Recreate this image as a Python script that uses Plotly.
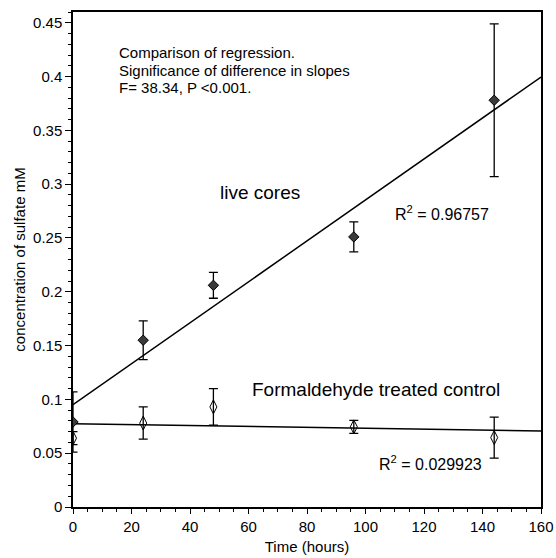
import numpy as np
import plotly.graph_objects as go

# Data
time_h = [0, 24, 48, 96, 144]
live_sulfate = [0.079, 0.155, 0.206, 0.251, 0.378]
live_err = [0.028, 0.018, 0.012, 0.014, 0.071]
control_sulfate = [0.064, 0.078, 0.093, 0.0745, 0.0645]
control_err = [0.006, 0.015, 0.017, 0.006, 0.019]
x_ticks = [0, 20, 40, 60, 80, 100, 120, 140, 160]
y_ticks = [0, 0.05, 0.1, 0.15, 0.2, 0.25, 0.3, 0.35, 0.4, 0.45]
y_tick_labels = ["0", "0.05", "0.1", "0.15", "0.2", "0.25", "0.3", "0.35", "0.4", "0.45"]
r2_live = "0.96757"
r2_control = "0.029923"

FONT = "Liberation Sans, Arial, sans-serif"

fit_x = np.array([0, 160])
live_fit = np.polyfit(time_h, live_sulfate, 1)
ctrl_fit = np.polyfit(time_h, control_sulfate, 1)

fig = go.Figure()

fig.add_trace(go.Scatter(x=fit_x, y=np.polyval(live_fit, fit_x), mode="lines",
                         line=dict(color="black", width=1.5), hoverinfo="skip"))
fig.add_trace(go.Scatter(x=fit_x, y=np.polyval(ctrl_fit, fit_x), mode="lines",
                         line=dict(color="black", width=1.5), hoverinfo="skip"))

fig.add_trace(go.Scatter(
    x=time_h, y=live_sulfate, mode="markers",
    marker=dict(symbol="diamond", size=8, color="#3a3a3a", line=dict(color="black", width=1)),
    error_y=dict(type="data", array=live_err, color="black", thickness=1.3, width=4.5),
))
fig.add_trace(go.Scatter(
    x=time_h, y=control_sulfate, mode="markers",
    marker=dict(symbol="diamond-tall-open", size=10, color="black", line=dict(width=1)),
    error_y=dict(type="data", array=control_err, color="black", thickness=1.3, width=4.5),
))

ann_font = dict(family=FONT, size=15, color="black")
annotations = [
    dict(x=15, y=0.4221, text="Comparison of regression.", font=ann_font),
    dict(x=15, y=0.4054, text="Significance of difference in slopes", font=ann_font),
    dict(x=15, y=0.3895, text="F= 38.34, P <0.001.", font=ann_font),
    dict(x=49.6, y=0.2919, text="live cores", font=dict(family=FONT, size=19, color="black")),
    dict(x=109.4, y=0.2733, text="R<sup>2</sup> = " + r2_live, font=dict(family=FONT, size=16, color="black")),
    dict(x=60.5, y=0.1088, text="Formaldehyde treated control", font=dict(family=FONT, size=19, color="black")),
    dict(x=103.9, y=0.0409, text="R<sup>2</sup> = " + r2_control, font=dict(family=FONT, size=16, color="black")),
]
for a in annotations:
    a.update(xref="x", yref="y", xanchor="left", yanchor="middle", showarrow=False)

fig.update_layout(
    width=556, height=558,
    margin=dict(l=73, r=15, t=12, b=51),
    paper_bgcolor="white", plot_bgcolor="white",
    showlegend=False,
    font=dict(family=FONT, size=15, color="black"),
    annotations=annotations,
    xaxis=dict(
        range=[0, 160], tickvals=x_ticks, ticks="outside", ticklen=5, tickwidth=1,
        tickcolor="black", showgrid=False, zeroline=False, automargin=False,
        ticklabeloverflow="allow",
        showline=True, linecolor="black", linewidth=1.5, mirror=True,
        minor=dict(dtick=5, ticks="outside", ticklen=3, tickcolor="black", showgrid=False),
        tickfont=dict(family=FONT, size=15),
        title=dict(text="Time (hours)", font=dict(family=FONT, size=15), standoff=8),
    ),
    yaxis=dict(
        range=[0, 0.46], tickvals=y_ticks, ticktext=y_tick_labels, ticks="outside", ticklen=6,
        tickwidth=1, tickcolor="black", showgrid=False, zeroline=False, automargin=False,
        showline=True, linecolor="black", linewidth=1.5, mirror=True,
        minor=dict(dtick=0.01, ticks="outside", ticklen=3, tickcolor="black", showgrid=False),
        tickfont=dict(family=FONT, size=15),
        title=dict(text="concentration of sulfate mM", font=dict(family=FONT, size=15), standoff=4),
    ),
)

fig.write_html(
    "out.html",
    config={"displayModeBar": False},
    post_script="document.body.style.margin='0';document.body.style.overflow='hidden';",
)
